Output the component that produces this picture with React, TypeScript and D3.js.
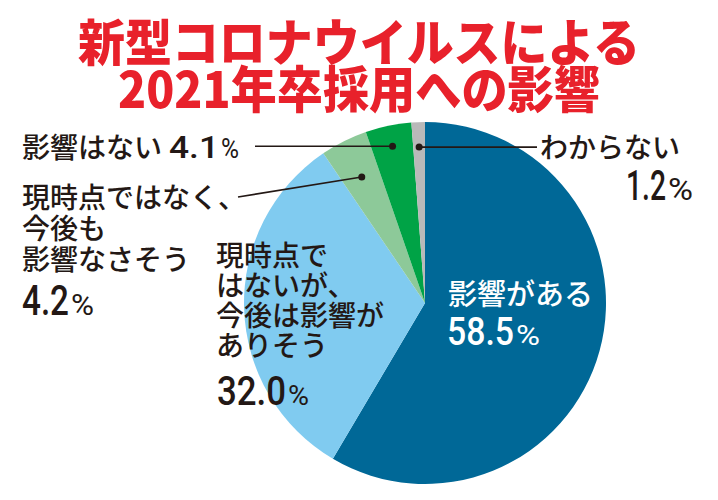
import React from "react";
import * as d3 from "d3";

const categories = [
  "影響がある",
  "現時点ではないが、今後は影響がありそう",
  "現時点ではなく、今後も影響なさそう",
  "影響はない",
  "わからない",
];
const values = [58.5, 32.0, 4.2, 4.1, 1.2];
const valueLabels = ["58.5", "32.0", "4.2", "4.1", "1.2"];
const titleLines = ["新型コロナウイルスによる", "2021年卒採用への影響"];

const W = 718;
const H = 500;
const CX = 425;
const CY = 303;
const R = 181;
const colors = ["#006897", "#80cbf0", "#8dc999", "#00a346", "#b9b9b9"];
const INK = "#231815";
const JP = "'Noto Sans CJK JP', 'Noto Sans', sans-serif";
const NUM = "'Roboto', 'Noto Sans', sans-serif";

export default function App() {
  const pie = d3.pie<number>().sort(null).value((d) => d);
  const arcs = pie(values);
  const arc = d3.arc<d3.PieArcDatum<number>>().innerRadius(0).outerRadius(R);
  const dotR = [0, 0, 141, 160, 156];
  const dot = (i: number) => {
    const a = arcs[i];
    const mid = (a.startAngle + a.endAngle) / 2;
    return [CX + dotR[i] * Math.sin(mid), CY - dotR[i] * Math.cos(mid)];
  };
  const d2 = dot(2), d3p = dot(3), d4 = dot(4);

  const Num = ({ i, x, y, w, size, pct, pw, fill }: { i: number; x: number; y: number; w: number; size: number; pct: number; pw: number; fill: string }) => (
    <g fill={fill}>
      <text x={x} y={y} fontFamily={NUM} fontSize={size} fontWeight={500}
        textLength={w} lengthAdjust="spacingAndGlyphs">{valueLabels[i]}</text>
      <text x={x + w + 2} y={y} fontFamily={NUM} fontSize={pct} fontWeight={400}
        textLength={pw} lengthAdjust="spacingAndGlyphs">%</text>
    </g>
  );

  return (
    <svg width={W} height={H} style={{ position: "absolute", left: 0, top: 0, background: "#fff" }}>
      <g>
        <text x={359} y={61} textAnchor="middle" fontFamily={JP} fontWeight={900} fontSize={50} fill="#e8212b"
          textLength={562} lengthAdjust="spacingAndGlyphs">{titleLines[0]}</text>
        <text x={359} y={108} textAnchor="middle" fontFamily={JP} fontWeight={900} fontSize={50} fill="#e8212b"
          textLength={482} lengthAdjust="spacingAndGlyphs">{titleLines[1]}</text>
      </g>
      <g>
        {arcs.map((a, i) => (
          <path key={categories[i]} d={arc(a) || ""} transform={`translate(${CX},${CY})`} fill={colors[i]} />
        ))}
      </g>
      <g stroke={INK} strokeWidth={1.6} fill="none">
        <line x1={255} y1={d3p[1]} x2={d3p[0]} y2={d3p[1]} />
        <line x1={d4[0]} y1={d4[1]} x2={537} y2={d4[1]} />
        <line x1={238} y1={197} x2={d2[0]} y2={d2[1]} />
      </g>
      <g fill={INK}>
        <circle cx={d2[0]} cy={d2[1]} r={3.5} />
        <circle cx={d3p[0]} cy={d3p[1]} r={3.5} />
        <circle cx={d4[0]} cy={d4[1]} r={3.5} />
      </g>
      <g fontFamily={JP} fontWeight={500} fill={INK} fontSize={28}>
        <text x={22} y={158}>影響はない</text>
        <text x={540} y={158}>わからない</text>
        <text x={22} y={208}>現時点ではなく、</text>
        <text x={22} y={239}>今後も</text>
        <text x={22} y={270}>影響なさそう</text>
        <text x={216} y={266}>現時点で</text>
        <text x={216} y={296}>はないが、</text>
        <text x={216} y={326}>今後は影響が</text>
        <text x={216} y={356}>ありそう</text>
      </g>
      <Num i={3} x={169} y={158} w={50} size={31} pct={28} pw={18} fill={INK} />
      <Num i={4} x={626} y={200} w={40} size={42} pct={31} pw={25} fill={INK} />
      <Num i={2} x={22} y={315} w={47} size={42} pct={29} pw={23} fill={INK} />
      <Num i={1} x={217} y={405} w={69} size={40} pct={27} pw={21} fill={INK} />
      <g fontFamily={JP} fontWeight={500} fill="#fff" fontSize={29}>
        <text x={448} y={305}>影響がある</text>
      </g>
      <Num i={0} x={447} y={345} w={67} size={39} pct={27} pw={24} fill="#fff" />
    </svg>
  );
}
